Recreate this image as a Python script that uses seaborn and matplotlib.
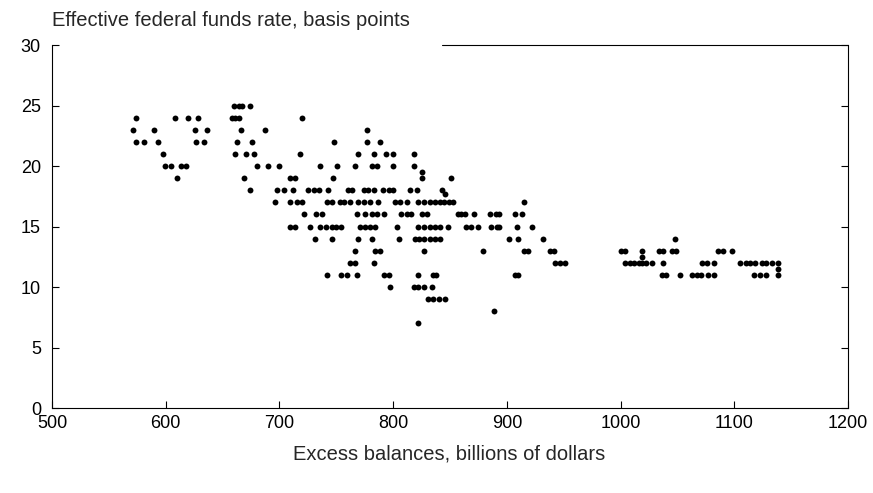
import pandas as pd
import matplotlib
matplotlib.use("Agg")
import matplotlib.pyplot as plt
import seaborn as sns

# Excess balances (billions of dollars) observed at each effective fed funds rate (bp)
bal_25 = [660, 664, 667, 674]
bal_24 = [574, 608, 620, 628, 658, 661, 664, 720]
bal_23 = [571, 590, 626, 636, 666, 687, 777]
bal_22 = [574, 581, 593, 627, 634, 663, 676, 748, 777, 788]
bal_21 = [598, 661, 671, 678, 718, 769, 783, 794, 800, 818]
bal_20 = [599, 605, 613, 618, 680, 690, 700, 736, 751, 766, 781, 786, 800, 818]
bal_19_5 = [825]
bal_19 = [610, 669, 709, 714, 747, 825, 851]
bal_18 = [674, 698, 704, 712, 725, 730, 735, 743, 760, 764, 774, 778, 783,
          791, 796, 800, 815, 821, 843]
bal_17_7 = [846]
bal_17 = [696, 709, 715, 720, 742, 746, 753, 757, 762, 769, 774, 780, 787,
          802, 806, 812, 822, 827, 832, 837, 841, 845, 849, 853, 915]
bal_16 = [722, 732, 737, 768, 775, 781, 786, 792, 807, 812, 816, 825, 830,
          857, 860, 863, 871, 885, 890, 893, 907, 913]
bal_15 = [709, 714, 727, 736, 741, 746, 750, 754, 771, 775, 780, 784, 803,
          822, 827, 832, 837, 841, 848, 864, 868, 875, 886, 891, 893, 909, 922]
bal_14 = [731, 746, 769, 781, 805, 819, 823, 827, 832, 837, 841, 902, 910, 932,
          1048]
bal_13 = [766, 784, 788, 827, 879, 915, 919, 938, 941,
          1000, 1004, 1019, 1034, 1037, 1045, 1049, 1086, 1090, 1098]
bal_12_5 = [1019]
bal_12 = [762, 766, 783, 942, 947, 951,
          1004, 1008, 1012, 1016, 1019, 1022, 1028, 1037, 1072, 1076, 1082,
          1105, 1110, 1114, 1118, 1124, 1128, 1133, 1138]
bal_11_5 = [1138]
bal_11 = [742, 754, 759, 768, 792, 796, 822, 835, 838, 907, 910,
          1036, 1040, 1052, 1063, 1067, 1071, 1077, 1082, 1117, 1123, 1128, 1138]
bal_10 = [797, 818, 822, 827, 834]
bal_9 = [831, 835, 840, 846]
bal_8 = [889]
bal_7 = [822]

levels = [(25, bal_25), (24, bal_24), (23, bal_23), (22, bal_22), (21, bal_21),
          (20, bal_20), (19.5, bal_19_5), (19, bal_19), (18, bal_18),
          (17.7, bal_17_7), (17, bal_17), (16, bal_16), (15, bal_15),
          (14, bal_14), (13, bal_13), (12.5, bal_12_5), (12, bal_12),
          (11.5, bal_11_5), (11, bal_11), (10, bal_10), (9, bal_9),
          (8, bal_8), (7, bal_7)]

x_ticks = [500, 600, 700, 800, 900, 1000, 1100, 1200]
y_ticks = [0, 5, 10, 15, 20, 25, 30]

rows = []
for rate, bals in levels:
    for b in bals:
        rows.append({"balances": b, "rate": rate})
df = pd.DataFrame(rows)

sns.set_theme(style="white")
plt.rcParams["font.family"] = ["Liberation Sans", "DejaVu Sans"]

fig = plt.figure(figsize=(8.73, 4.93), dpi=100)
ax = fig.add_axes([0.0596, 0.1724, 0.9118, 0.7363])

sns.scatterplot(data=df, x="balances", y="rate", ax=ax, color="black",
                s=18, linewidth=0, legend=False)

ax.set_xlim(500, 1200)
ax.set_ylim(0, 30)
ax.set_xticks(x_ticks)
ax.set_yticks(y_ticks)
ax.tick_params(axis="both", labelsize=13, colors="black", direction="in",
               length=5, width=0.8)
ax.tick_params(axis="y", right=True, left=True, pad=8)
ax.tick_params(axis="x", bottom=True, pad=5)
ax.set_xlabel("")
ax.set_ylabel("")

for side in ["left", "right", "bottom"]:
    ax.spines[side].set_color("black")
    ax.spines[side].set_linewidth(0.8)
ax.spines["top"].set_visible(False)
# top frame line only where the axis title leaves room
ax.plot([0.49, 1.0], [1, 1], transform=ax.transAxes, color="black",
        linewidth=0.8, clip_on=False)

fig.text(0.0596, 0.958, "Effective federal funds rate, basis points",
         fontsize=14.5, ha="left", va="center")
fig.text(0.514, 0.079, "Excess balances, billions of dollars",
         fontsize=14.5, ha="center", va="center")

fig.savefig("out.png", dpi=100, facecolor="white")
